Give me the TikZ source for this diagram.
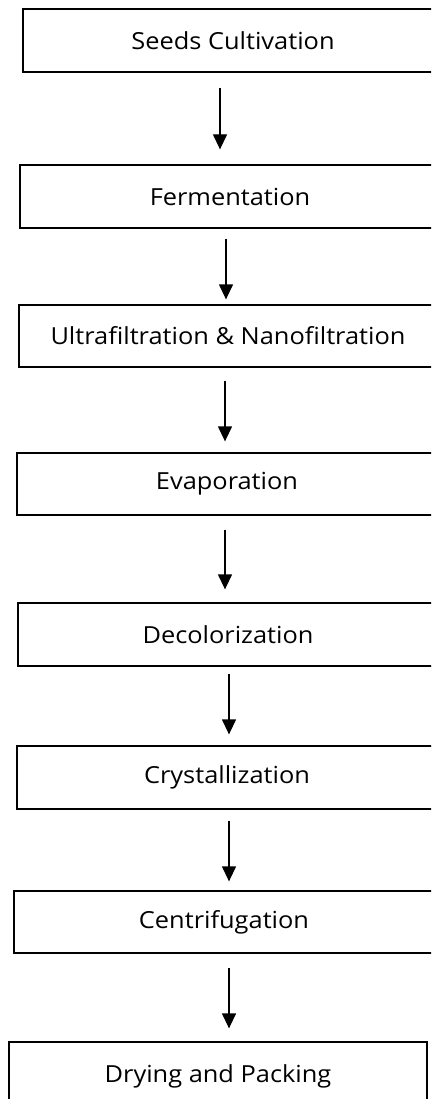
\documentclass[tikz,border=0pt]{standalone}
\usepackage{fontspec}
\setmainfont{Open Sans}[FakeStretch=1.08]
\usetikzlibrary{arrows.meta}
\tikzset{
  box/.style={draw=black, line width=1.3pt, rectangle, inner sep=0pt, font=\fontsize{23.5}{28}\selectfont},
  arr/.style={draw=black, line width=1.3pt, -{Triangle[width=14pt,length=15pt]}}
}
\begin{document}
\begin{tikzpicture}[x=1pt,y=-1pt]
\useasboundingbox (0,0) rectangle (431,1099);
\clip (0,0) rectangle (431,1099);
\fill[white] (0,0) rectangle (431,1099);
% boxes
\node[box, minimum width=420pt, minimum height=63pt] (b1) at (233,40.5) {Seeds Cultivation};
\node[box, minimum width=420pt, minimum height=63pt] (b2) at (230,196.5) {Fermentation};
\node[box, minimum width=418pt, minimum height=62pt] (b3) at (228,336) {Ultrafiltration \& Nanofiltration};
\node[box, minimum width=420pt, minimum height=62pt] (b4) at (227,484) {Evaporation};
\node[box, minimum width=420pt, minimum height=63pt] (b5) at (228,634.5) {Decolorization};
\node[box, minimum width=420pt, minimum height=63pt] (b6) at (227,777.5) {Crystallization};
\node[box, minimum width=420pt, minimum height=62pt] (b7) at (224,922) {Centrifugation};
\node[box, minimum width=418pt, minimum height=68pt] (b8) at (218,1076) {Drying and Packing};
% arrow x positions
\coordinate (x1) at (220,0);
\coordinate (x2) at (226,0);
\coordinate (x3) at (225,0);
\coordinate (x4) at (225,0);
\coordinate (x5) at (229,0);
\coordinate (x6) at (229,0);
\coordinate (x7) at (229,0);
\draw[arr, shorten <=15pt, shorten >=15pt] (b1.south -| x1) -- (b2.north -| x1);
\draw[arr, shorten <=10pt, shorten >=5pt] (b2.south -| x2) -- (b3.north -| x2);
\draw[arr, shorten <=13pt, shorten >=11pt] (b3.south -| x3) -- (b4.north -| x3);
\draw[arr, shorten <=14pt, shorten >=13pt] (b4.south -| x4) -- (b5.north -| x4);
\draw[arr, shorten <=7pt, shorten >=11pt] (b5.south -| x5) -- (b6.north -| x5);
\draw[arr, shorten <=11pt, shorten >=9pt] (b6.south -| x6) -- (b7.north -| x6);
\draw[arr, shorten <=14pt, shorten >=13pt] (b7.south -| x7) -- (b8.north -| x7);
\end{tikzpicture}
\end{document}
